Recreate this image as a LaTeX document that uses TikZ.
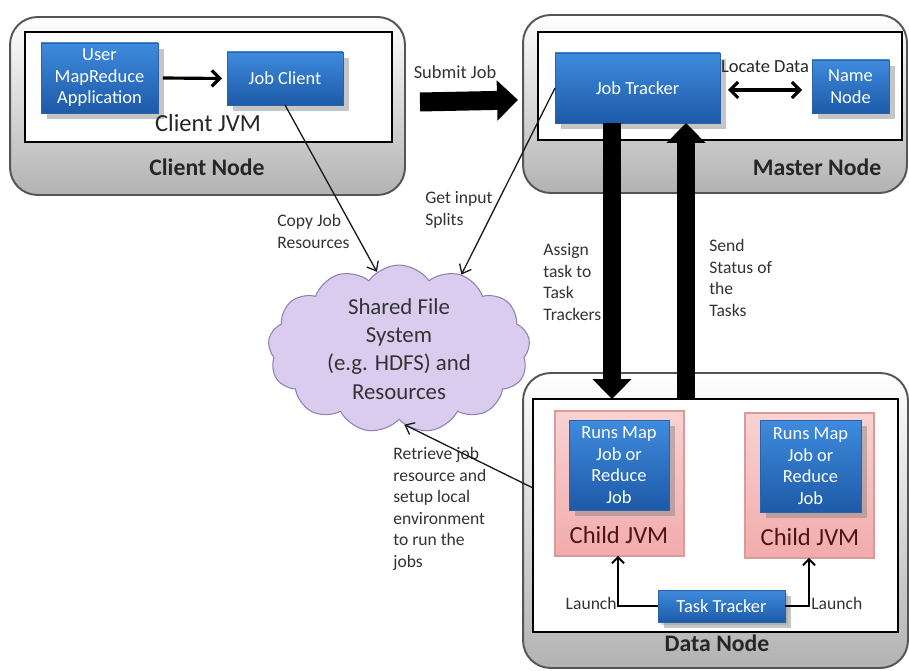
\documentclass[tikz,border=0pt]{standalone}
\usepackage{fontspec}
\setmainfont{Carlito}
\usetikzlibrary{arrows.meta,shapes.symbols,shadows,calc}
\definecolor{bluetop}{HTML}{3F8BDD}
\definecolor{bluebot}{HTML}{1D5AA8}
\definecolor{blueedge}{HTML}{2A62A8}
\definecolor{pinktop}{HTML}{F9D2D2}
\definecolor{pinkbot}{HTML}{F2ABAB}
\definecolor{pinkedge}{HTML}{D99A9A}
\definecolor{cloudfill}{HTML}{DACCEF}
\definecolor{cloudedge}{HTML}{8F80B8}
\definecolor{outeredge}{HTML}{555555}
\definecolor{txt}{HTML}{333333}
\definecolor{jvmtxt}{HTML}{4A1515}
\tikzset{
  outerbox/.style={draw=outeredge, line width=1.1pt, rounded corners=0.55cm,
    top color=white, bottom color=black!30, inner sep=0, outer sep=0},
  innerbox/.style={draw=black, line width=1.3pt, fill=white, inner sep=0, outer sep=0},
  bluebox/.style={draw=blueedge, line width=0.4pt, top color=bluetop, bottom color=bluebot,
    text=white, align=center, inner sep=0, outer sep=0,
    font=\fontsize{10.5}{12.2}\selectfont,
    drop shadow={opacity=0.45, shadow xshift=0.12cm, shadow yshift=-0.12cm}},
  pinkbox/.style={draw=pinkedge, line width=0.6pt, top color=pinktop, bottom color=pinkbot,
    inner sep=0, outer sep=0},
  lbl/.style={text=txt, align=left, inner sep=0, anchor=north west,
    font=\fontsize{10}{12.3}\selectfont},
  title/.style={text=black!85, inner sep=0, font=\bfseries\fontsize{13.5}{16}\selectfont},
  jvm/.style={text=jvmtxt, inner sep=0, font=\fontsize{14}{16}\selectfont},
  thin/.style={draw=black!90, line width=0.75pt, -{Straight Barb[length=0.16cm,width=0.26cm]}},
  med/.style={draw=black, line width=1.8pt, -{Straight Barb[length=0.16cm,width=0.32cm]}},
  bigv/.style={draw=black, line width=0.37cm, -{Triangle[length=0.4cm,width=0.76cm]}},
  bigh/.style={draw=black, line width=0.38cm, -{Triangle[length=0.42cm,width=0.78cm]}}
}
\begin{document}
\begin{tikzpicture}[x=0.02cm,y=-0.02cm]
\useasboundingbox[fill=white] (0,0) rectangle (909,671);

% Client node
\node[outerbox, minimum width=7.9cm, minimum height=3.56cm] (cn) at (207.5,106) {};
\node[innerbox, minimum width=7.34cm, minimum height=2.2cm] (cni) at (208.5,87) {};
\node[bluebox, minimum width=2.34cm, minimum height=1.4cm] (ua) at (99.5,78) {User\\MapReduce\\Application};
\node[bluebox, minimum width=2.32cm, minimum height=1.06cm] (jc) at (285,78.5) {Job Client};
\node[jvm, text=black!85] (cjvm) at (208,123) {Client JVM};
\node[title] (cnt) at (207,167) {Client Node};

% Master node
\node[outerbox, minimum width=7.68cm, minimum height=3.56cm] (mn) at (715,104) {};
\node[innerbox, minimum width=7.28cm, minimum height=2.16cm] (mni) at (720,86) {};
\node[bluebox, minimum width=3.3cm, minimum height=1.4cm] (jt) at (637.5,88) {Job Tracker};
\node[bluebox, minimum width=1.54cm, minimum height=1.06cm] (nn) at (850.5,86.5) {Name\\Node};
\node[text=black!85, inner sep=0, font=\fontsize{10.5}{12}\selectfont] (ld) at (765,67) {Locate Data};
\node[title] (mnt) at (817,167) {Master Node};

% Data node
\node[outerbox, minimum width=7.7cm, minimum height=5.9cm] (dn) at (715.5,520.5) {};
\node[innerbox, minimum width=7.3cm, minimum height=4.66cm] (dni) at (715.5,515.5) {};
\node[pinkbox, minimum width=2.58cm, minimum height=2.9cm] (cjl) at (619.5,483.5) {};
\node[pinkbox, minimum width=2.58cm, minimum height=2.9cm] (cjr) at (809.5,485.5) {};
\node[bluebox, minimum width=2.0cm, minimum height=1.8cm] (rml) at (619,465) {Runs Map\\Job or\\Reduce\\Job};
\node[bluebox, minimum width=2.02cm, minimum height=1.84cm] (rmr) at (810.5,466) {Runs Map\\Job or\\Reduce\\Job};
\node[jvm] (cjlt) at (619,535) {Child JVM};
\node[jvm] (cjrt) at (810,537) {Child JVM};
\node[bluebox, minimum width=2.54cm, minimum height=0.64cm,
  drop shadow={opacity=0.3, shadow xshift=0.06cm, shadow yshift=-0.06cm}] (tt) at (721.5,606) {Task Tracker};
\node[text=txt, inner sep=0, font=\fontsize{10}{12}\selectfont, anchor=east] (la1) at (617,603) {Launch};
\node[text=txt, inner sep=0, font=\fontsize{10}{12}\selectfont, anchor=west] (la2) at (811,603) {Launch};
\node[title] (dnt) at (717,643) {Data Node};

% Cloud
\node[cloud, cloud puffs=13, cloud puff arc=110, aspect=1.7, draw=cloudedge, line width=0.6pt,
  fill=cloudfill, minimum width=5.24cm, minimum height=3.14cm, inner sep=0,
  text=txt, align=center, font=\fontsize{13}{16}\selectfont] (cl) at (399,349)
  {Shared File\\System\\(e.g. HDFS) and\\Resources};

% Labels
\node[text=txt, inner sep=0, font=\fontsize{10.5}{12}\selectfont] (sjl) at (455,72) {Submit Job};
\node[lbl] (cjres) at (277,214) {Copy Job\\Resources};
\node[lbl] (gis) at (425,191) {Get input\\Splits};
\node[lbl] (ast) at (543,243) {Assign\\task to\\Task\\Trackers};
\node[lbl] (sst) at (709,239) {Send\\Status of\\the\\Tasks};
\node[lbl] (rjr) at (393,447) {Retrieve job\\resource and\\setup local\\environment\\to run the\\jobs};

% Connectors
\draw[med] ([xshift=0.1cm]ua.east) -- ([xshift=-0.1cm]jc.west);
\draw[med, {Straight Barb[length=0.16cm,width=0.32cm]}-{Straight Barb[length=0.16cm,width=0.32cm]}]
  ([xshift=0.16cm,yshift=-0.04cm]jt.east) -- ([xshift=-0.2cm,yshift=-0.04cm]jt.east -| nn.west);
\draw[bigh] ([xshift=0.3cm,yshift=0.08cm]cn.east) -- ([xshift=-0.1cm,yshift=0.08cm]mn.west);
\draw[bigv] (jt.south -| 612,0) -- (dni.north -| 612,0);
\draw[bigv] (dni.north -| 686,0) -- (jt.south -| 686,0);
\draw[thin] (jc.south) -- (cl.106);
\draw[thin] (jt.west) -- (cl.50);
\draw[thin] (dni.west |- 0,488) -- (cl.274);
\draw[draw=black, line width=1.1pt, -{Straight Barb[length=0.12cm,width=0.24cm]}] (tt.west) -| (cjl.south -| 618,0);
\draw[draw=black, line width=1.1pt, -{Straight Barb[length=0.12cm,width=0.24cm]}] (tt.east) -| (cjr.south -| 809,0);
\end{tikzpicture}
\end{document}
